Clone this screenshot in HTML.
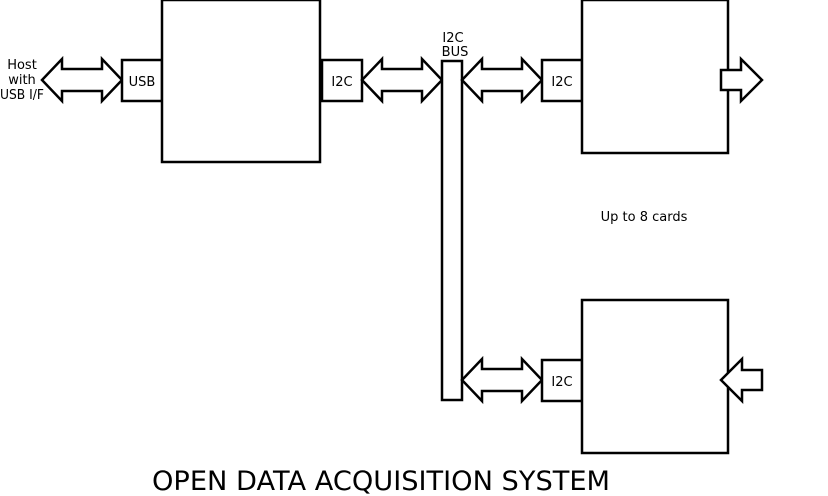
<!DOCTYPE html>
<html><head><style>html,body{margin:0;padding:0;background:#fff}svg{display:block}text{font-family:"DejaVu Sans","Liberation Sans",sans-serif}</style></head>
<body>
<svg width="828" height="496" viewBox="0 0 828 496" xmlns="http://www.w3.org/2000/svg">
<g fill="#fff" stroke="#000" stroke-width="2.5">
<polygon points="42,80 62,59 62,69 102,69 102,59 122,80 102,101 102,91 62,91 62,101"/>
<rect x="122" y="60" width="40" height="41"/>
<rect x="162" y="0" width="158" height="162"/>
<rect x="322" y="60" width="40" height="41"/>
<polygon points="362,80 382,59 382,69 422,69 422,59 442,80 422,101 422,91 382,91 382,101"/>
<rect x="442" y="61" width="20" height="339"/>
<polygon points="462,80 482,59 482,69 522,69 522,59 542,80 522,101 522,91 482,91 482,101"/>
<rect x="542" y="60" width="40" height="41"/>
<rect x="582" y="0" width="146" height="153"/>
<polygon points="721,70 741,70 741,59 762,80 741,101 741,90 721,90"/>
<polygon points="462,380 482,359 482,369 522,369 522,359 542,380 522,401 522,391 482,391 482,401"/>
<rect x="542" y="360" width="40" height="41"/>
<rect x="582" y="300" width="146" height="153"/>
<polygon points="721,380 742,359 742,370 762,370 762,390 742,390 742,401"/>
</g>
<g style="font-size:13px" fill="#000" text-anchor="middle">
<text x="22" y="69">Host</text>
<text x="22" y="84">with</text>
<text x="22" y="99" textLength="44" lengthAdjust="spacingAndGlyphs">USB I/F</text>
<text x="142" y="86">USB</text>
<text x="342" y="86">I2C</text>
<text x="562" y="86">I2C</text>
<text x="562" y="386">I2C</text>
<text x="453" y="42">I2C</text>
<text x="455" y="56">BUS</text>
<text x="644" y="221">Up to 8 cards</text>
</g>
<text x="152" y="490" style="font-size:27px" textLength="458" lengthAdjust="spacingAndGlyphs" fill="#000">OPEN DATA ACQUISITION SYSTEM</text>
</svg>
</body></html>
